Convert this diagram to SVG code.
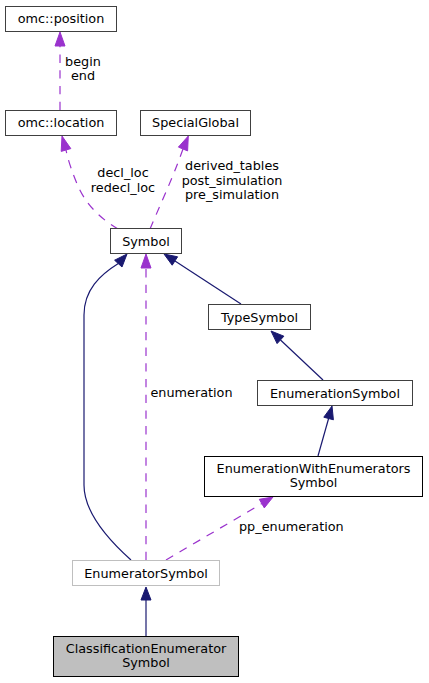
<svg xmlns="http://www.w3.org/2000/svg" width="429" height="683" viewBox="0 0 429 683">
<style>
  text { font-family: "DejaVu Sans", "Liberation Sans", sans-serif; font-size: 12.8px; fill: #000; }
  .n { text-anchor: middle; }
  .box { fill: #fff; stroke: #404040; stroke-width: 1; }
  .inh { fill: none; stroke: #191970; stroke-width: 1.2; }
  .inhh { fill: #191970; stroke: #191970; }
  .use { fill: none; stroke: #9a32cd; stroke-width: 1.2; stroke-dasharray: 8.3,7.4; }
  .useh { fill: #9a32cd; stroke: #9a32cd; }
</style>
<rect width="429" height="683" fill="#fff"/>
<g id="connectors">
  <!-- location -> position -->
  <path class="use" d="M60,110 L60,46"/>
  <polygon class="useh" points="60,32 55,46 65,46"/>
  <text class="n" x="83" y="66">begin</text>
  <text class="n" x="83" y="80">end</text>
  <!-- Symbol -> location -->
  <path class="use" d="M118,229 C96,216 84,200 78,186 C72,172 68,160 66,150"/>
  <polygon class="useh" points="62,136 70.8,148.6 61.2,151.4"/>
  <text class="n" x="123" y="177">decl_loc</text>
  <text class="n" x="123" y="192">redecl_loc</text>
  <!-- Symbol -> SpecialGlobal -->
  <path class="use" d="M150,229 C160,205 172,180 183,149"/>
  <polygon class="useh" points="188.3,136 187.6,150.9 178.4,147.1"/>
  <text class="n" x="232" y="170">derived_tables</text>
  <text class="n" x="232" y="185">post_simulation</text>
  <text class="n" x="232" y="199">pre_simulation</text>
  <!-- TypeSymbol -> Symbol -->
  <path class="inh" d="M241,304 L175,261"/>
  <polygon class="inhh" points="164,254 177.6,256.8 172.2,265.2"/>
  <!-- EnumerationSymbol -> TypeSymbol -->
  <path class="inh" d="M323,380 L280.5,340"/>
  <polygon class="inhh" points="271,331 283.9,336.2 277.1,343.6"/>
  <!-- EWES -> EnumerationSymbol -->
  <path class="inh" d="M318,456 L328.6,418.5"/>
  <polygon class="inhh" points="332,406 333.4,419.8 323.8,417.2"/>
  <!-- EnumeratorSymbol -> Symbol (inheritance) -->
  <path class="inh" d="M131,560 C112,543 84,515 84,485 L84,315 C84,290 100,275 118.3,263.6"/>
  <polygon class="inhh" points="127,254 122,267 114.6,260.2"/>
  <!-- EnumeratorSymbol -> Symbol (enumeration) -->
  <path class="use" d="M146,560 L146,268"/>
  <polygon class="useh" points="146,254 141,268 151,268"/>
  <text x="150.5" y="397">enumeration</text>
  <!-- EnumeratorSymbol -> EWES -->
  <path class="use" d="M166,560 L261.8,503.6"/>
  <polygon class="useh" points="273,497 264.3,507.9 259.3,499.3"/>
  <text x="239" y="531">pp_enumeration</text>
  <!-- Classification -> EnumeratorSymbol -->
  <path class="inh" d="M146,636 L146,600"/>
  <polygon class="inhh" points="146,587 141,600 151,600"/>
</g>
<g id="node-position">
  <rect class="box" x="5.5" y="6.5" width="111" height="25"/>
  <text class="n" x="61" y="23">omc::position</text>
</g>
<g id="node-location">
  <rect class="box" x="5.5" y="110.5" width="111" height="25"/>
  <text class="n" x="61" y="127">omc::location</text>
</g>
<g id="node-specialglobal">
  <rect class="box" x="140.5" y="110.5" width="110" height="25"/>
  <text class="n" x="195.5" y="127">SpecialGlobal</text>
</g>
<g id="node-symbol">
  <rect class="box" x="110.5" y="228.5" width="71" height="25"/>
  <text class="n" x="146" y="245.5">Symbol</text>
</g>
<g id="node-typesymbol">
  <rect class="box" x="208.5" y="304.5" width="102" height="25"/>
  <text class="n" x="259.5" y="321.5">TypeSymbol</text>
</g>
<g id="node-enumerationsymbol">
  <rect class="box" x="257.5" y="380.5" width="155" height="25"/>
  <text class="n" x="335" y="397.5">EnumerationSymbol</text>
</g>
<g id="node-ewes">
  <rect class="box" x="204.5" y="456.5" width="218" height="40" style="stroke:#000"/>
  <text class="n" x="313.5" y="472.5">EnumerationWithEnumerators</text>
  <text class="n" x="313.5" y="486.5">Symbol</text>
</g>
<g id="node-enumeratorsymbol">
  <rect class="box" x="72.5" y="560.5" width="147" height="25" style="stroke:#bfbfbf"/>
  <text class="n" x="146" y="577.5">EnumeratorSymbol</text>
</g>
<g id="node-classification">
  <rect class="box" x="53.5" y="636.5" width="185" height="40" style="fill:#bfbfbf;stroke:#000"/>
  <text class="n" x="146" y="652.5">ClassificationEnumerator</text>
  <text class="n" x="146" y="666.5">Symbol</text>
</g>
</svg>
